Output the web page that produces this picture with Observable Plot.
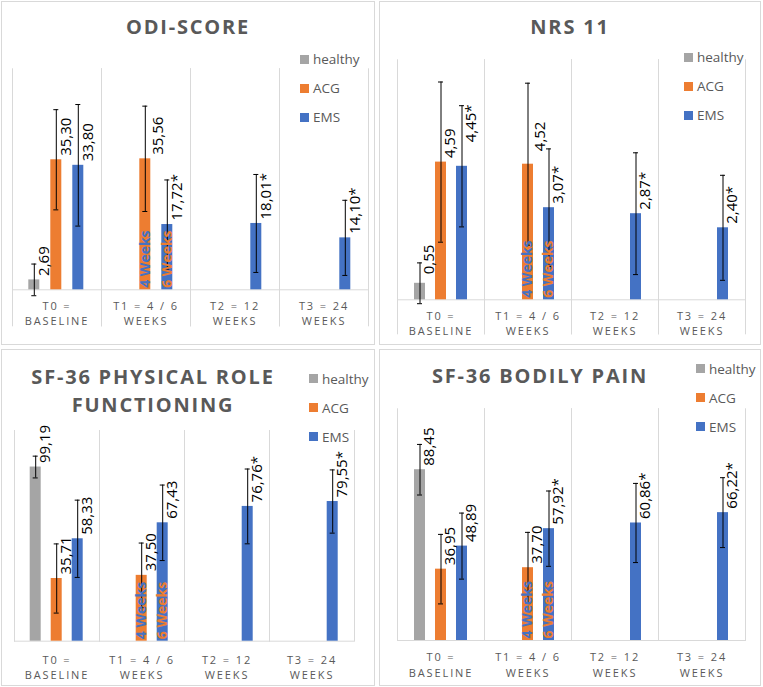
<!DOCTYPE html>
<html><head><meta charset="utf-8">
<script src="https://cdn.jsdelivr.net/npm/d3@7"></script>
<script src="https://cdn.jsdelivr.net/npm/@observablehq/plot@0.6"></script>
<style>
body{margin:0;background:#fff;}
#root{position:relative;width:763px;height:687px;overflow:hidden;font-family:"Open Sans",sans-serif;}
.panel{position:absolute;border:1px solid #d9d9d9;box-sizing:border-box;}
.plot{position:absolute;}
.title{position:absolute;width:400px;text-align:center;font-weight:bold;font-size:20px;letter-spacing:1.8px;color:#595959;line-height:28px;white-space:pre-line;}
.lg{position:absolute;height:20px;display:flex;align-items:center;font-size:13.5px;color:#595959;white-space:nowrap;}
.lg span.sw{display:inline-block;width:9px;height:9px;margin-right:4px;}
g[aria-label="fx-axis tick label"] text{letter-spacing:1.9px;}
</style></head>
<body><div id="root"></div>
<script>
// ---------- data ----------
const timepoints = ["T0", "T1", "T2", "T3"];
const timeLabels = ["T0 =\nBASELINE", "T1 = 4 / 6\nWEEKS", "T2 = 12\nWEEKS", "T3 = 24\nWEEKS"];
const groups = ["healthy", "ACG", "EMS"];
const groupColors = ["#a5a5a5", "#ed7d31", "#4472c4"];
const barTime  = ["T0", "T0", "T0", "T1", "T1", "T2", "T3"];
const barGroup = ["healthy", "ACG", "EMS", "ACG", "EMS", "EMS", "EMS"];

const panelTitles = ["ODI-SCORE", "NRS 11", "SF-36 PHYSICAL ROLE\nFUNCTIONING", "SF-36 BODILY PAIN"];
const panelYMax = [60, 8, 120, 120];

const odiMean = [2.69, 35.30, 33.80, 35.56, 17.72, 18.01, 14.10];
const odiSD   = [4.3, 13.6, 16.5, 14.3, 12.1, 13.3, 10.2];
const odiSig  = [false, false, false, false, true, true, true];

const nrsMean = [0.55, 4.59, 4.45, 4.52, 3.07, 2.87, 2.40];
const nrsSD   = [0.68, 2.67, 2.02, 2.70, 1.96, 2.03, 1.75];
const nrsSig  = [false, false, true, false, true, true, true];

const prfMean = [99.19, 35.71, 58.33, 37.50, 67.43, 76.76, 79.55];
const prfSD   = [6.2, 19.7, 22.0, 18.4, 21.5, 21.3, 18.0];
const prfSig  = [false, false, false, false, false, true, true];

const bpMean  = [88.45, 36.95, 48.89, 37.70, 57.92, 60.86, 66.22];
const bpSD    = [13.1, 18.0, 17.1, 18.3, 19.5, 20.5, 18.1];
const bpSig   = [false, false, false, false, true, true, true];

const noteTime  = ["T1", "T1"];
const noteGroup = ["ACG", "EMS"];
const noteText  = ["4 Weeks", "6 Weeks"];

// ---------- build ----------
const panelMeans = [odiMean, nrsMean, prfMean, bpMean];
const panelSDs = [odiSD, nrsSD, prfSD, bpSD];
const panelSigs = [odiSig, nrsSig, prfSig, bpSig];
const colorOf = g => groupColors[groups.indexOf(g)];
const fmt = v => d3.format(".2f")(v).replace(".", ",");

// layout (pixels) and manual label lifts (pixels, per bar index)
const layout = [
  {left:1, top:1, w:374, h:344, mt:67.3, mr:6.7, mb:55.7, ml:10.7, ext:36, tp:9, tcx:188, tbase:35, lx:300, ly:59, lift:{3:0}, shift:{3:3}},
  {left:379, top:1, w:382, h:344, mt:58.3, mr:15, mb:45.7, ml:16, ext:34, tp:9, tcx:570, tbase:35, lx:684, ly:57, lift:{0:5, 2:20, 3:9}, shift:{3:3}},
  {left:1, top:349, w:374, h:337, mt:81, mr:20, mb:45.3, ml:12.3, ext:0, tp:11.5, tcx:153, tbase:385, lx:309, ly:378.5, lift:{}, shift:{}},
  {left:379, top:349, w:382, h:337, mt:59.3, mr:15, mb:46, ml:17, ext:0, tp:10, tcx:540, tbase:383.3, lx:696, ly:368.5, lift:{}, shift:{}}
];

const root = document.getElementById("root");
const notes = noteTime.map((t, i) => ({time: t, group: noteGroup[i], text: noteText[i]}));

layout.forEach((L, p) => {
  const rows = barTime.map((t, i) => ({
    i, time: t, group: barGroup[i], mean: panelMeans[p][i], sd: panelSDs[p][i], sig: panelSigs[p][i]
  }));
  const panel = document.createElement("div");
  panel.className = "panel";
  Object.assign(panel.style, {left: L.left + "px", top: L.top + "px", width: L.w + "px", height: L.h + "px"});
  root.appendChild(panel);

  const chart = Plot.plot({
    width: L.w, height: L.h,
    marginTop: L.mt, marginRight: L.mr, marginBottom: L.mb, marginLeft: L.ml,
    fx: {domain: timepoints, padding: 0, label: null},
    x: {domain: groups, paddingInner: 0.48, paddingOuter: 0.74, axis: null},
    y: {domain: [0, panelYMax[p]], axis: null},
    color: {domain: groups, range: groupColors},
    style: {fontFamily: "Open Sans", background: "transparent", overflow: "visible"},
    marks: [
      Plot.frame({anchor: "left", stroke: "#d9d9d9", insetBottom: -L.ext}),
      Plot.frame({anchor: "right", stroke: "#d9d9d9", insetBottom: -L.ext}),
      Plot.ruleY([0], {stroke: "#d9d9d9"}),
      Plot.barY(rows, {fx: "time", x: "group", y: "mean", fill: "group"}),
      Plot.ruleX(rows, {fx: "time", x: "group", y1: d => d.mean - d.sd, y2: d => d.mean + d.sd, stroke: "#000", strokeWidth: 1}),
      Plot.tickY(rows, {fx: "time", x: "group", y: d => d.mean - d.sd, stroke: "#000", insetLeft: 3, insetRight: 3}),
      Plot.tickY(rows, {fx: "time", x: "group", y: d => d.mean + d.sd, stroke: "#000", insetLeft: 3, insetRight: 3}),
      ...rows.map(r => Plot.text([r], {fx: "time", x: "group", y: "mean", text: d => fmt(d.mean) + (d.sig ? "*" : ""),
        rotate: -90, textAnchor: "start", dx: 9.5 + (L.shift[r.i] || 0), dy: -4 - (L.lift[r.i] || 0), fontSize: 15, fill: "#000"})),
      Plot.text(notes, {fx: "time", x: "group", y: () => 0, text: "text", rotate: -90, textAnchor: "start",
        dy: -2, fontSize: 14, fontWeight: "bold", fill: d => d.group === "ACG" ? colorOf("EMS") : colorOf("ACG")}),
      Plot.axisFx({anchor: "bottom", tickSize: 0, tickPadding: L.tp, lineHeight: 1.4, fontSize: 11,
        fill: "#595959", tickFormat: d => timeLabels[timepoints.indexOf(d)]})
    ]
  });
  chart.classList.add("plot");
  chart.style.left = L.left + "px";
  chart.style.top = L.top + "px";
  root.appendChild(chart);

  const title = document.createElement("div");
  title.className = "title";
  title.textContent = panelTitles[p];
  title.style.left = (L.tcx - 200) + "px";
  title.style.top = (L.tbase - 21.8) + "px";
  root.appendChild(title);

  groups.forEach((g, i) => {
    const item = document.createElement("div");
    item.className = "lg";
    item.style.left = L.lx + "px";
    item.style.top = (L.ly + i * 29 - 10) + "px";
    item.innerHTML = `<span class="sw" style="background:${groupColors[i]}"></span>`;
    item.appendChild(document.createTextNode(g));
    root.appendChild(item);
  });
});
</script>
</body></html>
